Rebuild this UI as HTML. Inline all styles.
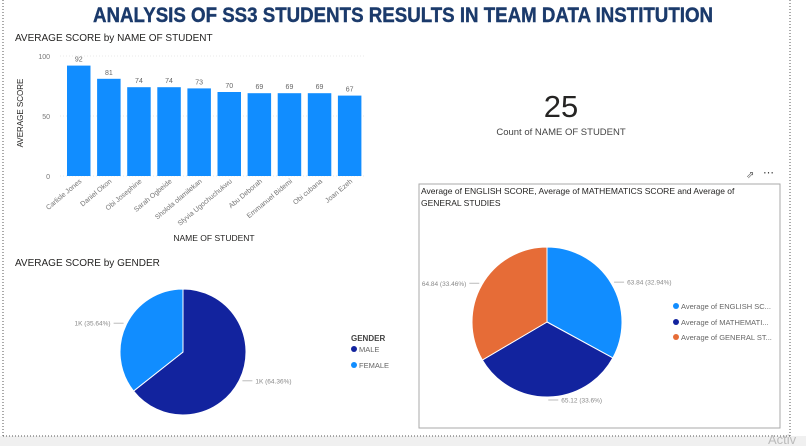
<!DOCTYPE html>
<html><head><meta charset="utf-8"><style>
body{margin:0;background:#fff;font-family:"Liberation Sans",sans-serif}
svg{display:block}
</style></head><body>
<svg width="806" height="446" viewBox="0 0 806 446" xmlns="http://www.w3.org/2000/svg" font-family="Liberation Sans, sans-serif">
<rect x="0" y="0" width="806" height="446" fill="#fff"/>
<rect x="0" y="436" width="806" height="10" fill="#f0f0f0"/>
<line x1="3" y1="0" x2="3" y2="436" stroke="#555" stroke-dasharray="1,2"/>
<line x1="3" y1="436" x2="790" y2="436" stroke="#555" stroke-dasharray="1,2"/>
<line x1="790" y1="0" x2="790" y2="436" stroke="#555" stroke-dasharray="1,2"/>
<text x="403" y="22" text-anchor="middle" font-size="21" font-weight="bold" fill="#1b3a6b" stroke="#1b3a6b" stroke-width="0.4" textLength="620" lengthAdjust="spacingAndGlyphs">ANALYSIS OF SS3 STUDENTS RESULTS IN TEAM DATA INSTITUTION</text>

<g id="bar">
<text x="15" y="41" font-size="10" fill="#252423">AVERAGE SCORE by NAME OF STUDENT</text>
<text transform="translate(23,113) rotate(-90)" text-anchor="middle" font-size="8" fill="#252423">AVERAGE SCORE</text>
<text x="214" y="241" text-anchor="middle" font-size="8.5" fill="#252423">NAME OF STUDENT</text>
</g>

<g>
<text x="561" y="117" text-anchor="middle" font-size="31" fill="#252423">25</text>
<text x="561" y="135" text-anchor="middle" font-size="9.5" fill="#444">Count of NAME OF STUDENT</text>
</g>

<g id="gender">
<text x="15" y="266" font-size="10" fill="#252423">AVERAGE SCORE by GENDER</text>
<text x="351" y="341" font-size="8" font-weight="bold" fill="#444">GENDER</text>
<circle cx="354" cy="349" r="3" fill="#12239e"/>
<text x="359" y="352" font-size="7.5" fill="#666">MALE</text>
<circle cx="354" cy="365" r="3" fill="#118dff"/>
<text x="359" y="368" font-size="7.5" fill="#666">FEMALE</text>
</g>

<g id="subj">
<text x="746" y="178" font-size="10" fill="#666">⇗</text>
<text x="763" y="176" font-size="11" fill="#444">⋯</text>
<rect x="419" y="184" width="361" height="244" fill="none" stroke="#aaa"/>
<text x="421" y="194" font-size="8.5" fill="#252423">Average of ENGLISH SCORE, Average of MATHEMATICS SCORE and Average of</text>
<text x="421" y="206" font-size="8.5" fill="#252423">GENERAL STUDIES</text>
<circle cx="676" cy="306" r="3" fill="#118dff"/>
<text x="681" y="309" font-size="7.5" fill="#666">Average of ENGLISH SC...</text>
<circle cx="676" cy="322" r="3" fill="#12239e"/>
<text x="681" y="325" font-size="7.5" fill="#666">Average of MATHEMATI...</text>
<circle cx="676" cy="337" r="3" fill="#e66c37"/>
<text x="681" y="340" font-size="7.5" fill="#666">Average of GENERAL ST...</text>
</g>
<text x="768" y="444" font-size="13" fill="#bbb">Activ</text>
</svg>
<script>
const NS='http://www.w3.org/2000/svg';
const names=['Carlisle Jones','Daniel Okon','Obi Josephine','Sarah Ogbeide','Sholola olamilekan','Slyvia Ugochuchukwu','Abu Deborah','Emmanuel Bidemi','Obi cubana','Joan Ezeh'];
const scores=[92,81,74,74,73,70,69,69,69,67];
const yTicks=[0,50,100];
const genderLabels=['MALE','FEMALE'];
const genderPct=[64.36,35.64];
const genderText=['1K (64.36%)','1K (35.64%)'];
const subjLabels=['English','Mathematics','General Studies'];
const subjValues=[63.84,65.12,64.84];
const subjPct=['32.94%','33.6%','33.46%'];

function mk(tag,attrs,parent,txt){const e=document.createElementNS(NS,tag);for(const k in attrs)e.setAttribute(k,attrs[k]);if(txt!==undefined)e.textContent=txt;parent.appendChild(e);return e;}
const y=v=>176-v*1.2;
const x=i=>67+i*30.1;
const bar=document.getElementById('bar');
yTicks.forEach(t=>{
  const g=mk('line',{x1:60,x2:365,y1:y(t),y2:y(t),stroke:'#e8e8e8','stroke-dasharray':'1,2'},bar);
  
  
  const l=mk('text',{x:50,y:y(t)+3,'text-anchor':'end','font-size':7,fill:'#777'},bar,String(t));
  
  
});
scores.forEach((v,i)=>{
  const r=mk('rect',{x:x(i),y:y(v),width:23.5,height:y(0)-y(v),fill:'#118dff'},bar);
  
  
  const t=mk('text',{x:x(i)+11.75,y:y(v)-4,'text-anchor':'middle','font-size':7,fill:'#666'},bar,String(v));
  
  
  const n=mk('text',{transform:`translate(${x(i)+15},${y(0)+6}) rotate(-40)`,'text-anchor':'end','font-size':7,fill:'#777'},bar,names[i]);
  
  
});

function pie(parent,cx,cy,r,vals,colors,name){
  const tot=vals.reduce((a,b)=>a+b,0);let a0=0;const mids=[];
  vals.forEach((v,i)=>{
    const a1=a0+v/tot*2*Math.PI;
    const p=(a)=>[cx+r*Math.sin(a),cy-r*Math.cos(a)];
    const [x0,y0]=p(a0),[x1,y1]=p(a1);
    const s=mk('path',{d:`M${cx},${cy}L${x0},${y0}A${r},${r} 0 ${a1-a0>Math.PI?1:0} 1 ${x1},${y1}Z`,fill:colors[i],stroke:'#fff','stroke-width':1},parent);
    
    
    mids.push((a0+a1)/2);a0=a1;
  });
  return mids;
}
const gG=document.getElementById('gender');
const gm=pie(gG,183,352,63,genderPct,['#12239e','#118dff'],'gender');
gm.forEach((a,i)=>{
  const px=183+66*Math.sin(a),py=352-66*Math.cos(a);const right=Math.sin(a)>0;
  const ex=px+(right?10:-10);
  const l=mk('polyline',{points:`${px},${py} ${ex},${py}`,fill:'none',stroke:'#bbb'},gG);
  
  
  const t=mk('text',{x:ex+(right?3:-3),y:py+2.5,'text-anchor':right?'start':'end','font-size':6.5,fill:'#888'},gG,genderText[i]);
  
  
});
const sG=document.getElementById('subj');
const sm=pie(sG,547,322,75,subjValues,['#118dff','#12239e','#e66c37'],'subject');
sm.forEach((a,i)=>{
  const px=547+78*Math.sin(a),py=322-78*Math.cos(a);const right=Math.sin(a)>0;
  const ex=px+(right?10:-10);
  const l=mk('polyline',{points:`${px},${py} ${ex},${py}`,fill:'none',stroke:'#bbb'},sG);
  
  
  const t=mk('text',{x:ex+(right?3:-3),y:py+2.5,'text-anchor':right?'start':'end','font-size':6.5,fill:'#888'},sG,subjValues[i].toFixed(2).replace(/0$/,'')+' ('+subjPct[i]+')');
  
  
});
</script>
</body></html>
